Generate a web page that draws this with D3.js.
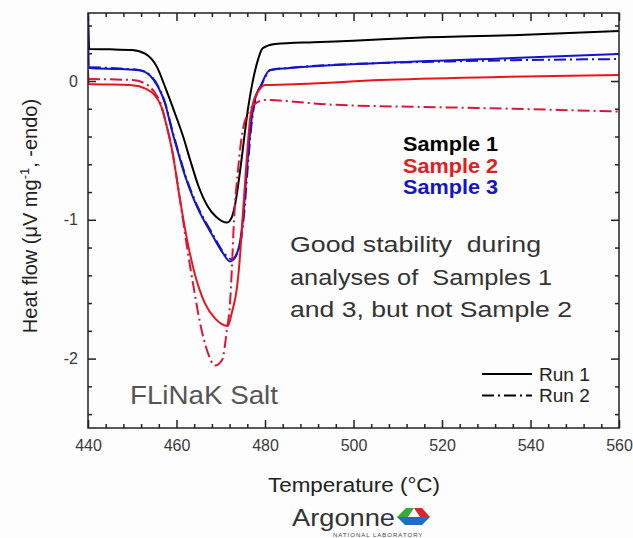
<!DOCTYPE html>
<html><head><meta charset="utf-8">
<script src="https://cdn.jsdelivr.net/npm/d3@7"></script>
<style>
html,body{margin:0;padding:0;background:#fdfdfd;}
svg{display:block;font-family:Arial,"Liberation Sans",sans-serif;}
</style></head>
<body><svg id="chart" width="633" height="538"></svg>
<script>
// ---------- data ----------
const xTickValues = [440, 460, 480, 500, 520, 540, 560];
const yTickValues = [0, -1, -2];
const sampleLabels = ["Sample 1", "Sample 2", "Sample 3"];
const runLabels = ["Run 1", "Run 2"];

// Sample 1, Run 1 (black solid)
const s1r1T = [440.0, 440.3, 445, 450, 453, 455.6, 457.5, 459.5, 461.5, 463.0, 465.0, 467.0, 469.0, 471.4, 472.5, 473.3, 474.4, 476.2, 478.2, 479.5, 482.3, 491, 500, 513, 536, 560];
const s1r1V = [0.49, 0.23, 0.228, 0.223, 0.195, 0.10, -0.05, -0.22, -0.40, -0.56, -0.76, -0.90, -0.98, -1.02, -0.98, -0.88, -0.64, -0.19, 0.13, 0.237, 0.266, 0.28, 0.29, 0.31, 0.33, 0.36];

// Sample 2, Run 1 (red solid)
const s2r1T = [440.0, 440.2, 450, 453, 455.0, 456.5, 457.6, 459.0, 460.8, 462.4, 464.2, 466.4, 468.7, 471.6, 472.5, 473.7, 474.4, 474.8, 475.7, 476.6, 477.5, 478.4, 480, 487.9, 506, 533, 560];
const s2r1V = [0.08, -0.022, -0.03, -0.055, -0.10, -0.18, -0.30, -0.497, -0.857, -1.146, -1.398, -1.60, -1.71, -1.765, -1.67, -1.48, -1.24, -1.05, -0.64, -0.28, -0.137, -0.079, -0.029, -0.022, 0.007, 0.029, 0.043];

// Sample 2, Run 2 (red dash-dot)
const s2r2T = [440.0, 450, 453, 455.0, 456.5, 457.6, 459.0, 460.8, 462.4, 464.0, 465.3, 466.9, 468.7, 470.3, 471.4, 472.1, 472.5, 473.0, 473.9, 475.0, 476.6, 478.4, 480, 494.7, 521.1, 536, 560];
const s2r2V = [0.014, 0.007, -0.02, -0.08, -0.17, -0.30, -0.497, -0.857, -1.20, -1.51, -1.74, -1.94, -2.05, -2.01, -1.79, -1.6, -1.36, -1.0, -0.64, -0.35, -0.21, -0.15, -0.137, -0.17, -0.19, -0.20, -0.22];

// Sample 3, Run 1 (blue solid)
const s3r1T = [440.0, 440.2, 447.2, 451.5, 454.0, 455.8, 457.4, 459.0, 460.5, 462.0, 463.5, 465.0, 466.4, 468.2, 470.5, 472.1, 473.2, 474.4, 475.0, 475.9, 476.8, 478.0, 478.9, 481.1, 485.6, 506, 536, 560];
const s3r1V = [0.48, 0.094, 0.086, 0.078, 0.04, -0.04, -0.16, -0.36, -0.53, -0.69, -0.82, -0.93, -1.016, -1.117, -1.24, -1.30, -1.27, -1.15, -1.0, -0.64, -0.32, -0.10, -0.043, 0.079, 0.094, 0.13, 0.165, 0.194];

// Sample 3, Run 2 (blue dash-dot)
const s3r2T = [440.2, 447.2, 451.5, 454.0, 455.8, 457.4, 459.0, 460.5, 462.0, 463.5, 465.0, 466.4, 468.2, 470.5, 472.6, 473.6, 474.7, 475.3, 476.1, 477.0, 478.2, 479.1, 481.3, 485.6, 506, 520, 536, 560];
const s3r2V = [0.10, 0.09, 0.08, 0.043, -0.035, -0.155, -0.35, -0.52, -0.68, -0.81, -0.92, -1.005, -1.105, -1.23, -1.285, -1.25, -1.12, -0.95, -0.62, -0.30, -0.09, -0.035, 0.08, 0.095, 0.13, 0.14, 0.15, 0.158];

// ---------- drawing ----------
const svg = d3.select("#chart");
const L = 88, R = 619, T = 13, B = 428;
const x = d3.scaleLinear().domain([440, 560]).range([L, R]);
const y = d3.scaleLinear().domain([-2.5, 0.49]).range([B, T]);

const axisColor = "#222";
const minorX = d3.range(440, 561, 4).filter(v => v % 20 !== 0);
const minorY = d3.range(-24, 5, 2).map(v => v / 10).filter(v => Math.abs(v - Math.round(v)) > 1e-6);

svg.append("clipPath").attr("id", "plotclip")
  .append("rect").attr("x", L).attr("y", T).attr("width", R - L).attr("height", B - T);

function styleAxis(g) {
  g.select(".domain").remove();
  g.selectAll(".tick line").attr("stroke", axisColor).attr("stroke-width", 1.5);
  g.selectAll(".tick text").attr("fill", "#3a3a3a").attr("font-size", 16)
    .attr("font-family", "Arial, 'Liberation Sans', sans-serif");
}
const noLabel = () => "";

// tick labels
svg.append("g").attr("transform", `translate(0,${B})`)
  .call(d3.axisBottom(x).tickValues(xTickValues).tickSize(0).tickPadding(12).tickFormat(d => String(d)))
  .call(styleAxis);
svg.append("g").attr("transform", `translate(${L},0)`)
  .call(d3.axisLeft(y).tickValues(yTickValues).tickSize(0).tickPadding(10).tickFormat(d => String(d)))
  .call(styleAxis);

// inward ticks
const tickSets = [
  {axis: d3.axisTop(x), tr: `translate(0,${B})`, vals: xTickValues, size: 8},
  {axis: d3.axisTop(x), tr: `translate(0,${B})`, vals: minorX, size: 4},
  {axis: d3.axisBottom(x), tr: `translate(0,${T})`, vals: xTickValues, size: 8},
  {axis: d3.axisBottom(x), tr: `translate(0,${T})`, vals: minorX, size: 4},
  {axis: d3.axisRight(y), tr: `translate(${L},0)`, vals: yTickValues, size: 8},
  {axis: d3.axisRight(y), tr: `translate(${L},0)`, vals: minorY, size: 4},
  {axis: d3.axisLeft(y), tr: `translate(${R},0)`, vals: yTickValues, size: 8},
  {axis: d3.axisLeft(y), tr: `translate(${R},0)`, vals: minorY, size: 4}
];
tickSets.forEach(t => {
  svg.append("g").attr("class", "ticks").attr("transform", t.tr)
    .call(t.axis.tickValues(t.vals).tickSize(t.size).tickFormat(noLabel))
    .call(styleAxis);
});

// curves
const line = d3.line().x(d => x(d[0])).y(d => y(d[1])).curve(d3.curveMonotoneX);
const zip = (a, b) => a.map((v, i) => [v, b[i]]);
const series = [
  {T: s1r1T, V: s1r1V, color: "#000000", dash: null},
  {T: s3r1T, V: s3r1V, color: "#1414c8", dash: null},
  {T: s3r2T, V: s3r2V, color: "#1414c8", dash: "12,4,2,4"},
  {T: s2r1T, V: s2r1V, color: "#e8161b", dash: null},
  {T: s2r2T, V: s2r2V, color: "#d8183a", dash: "12,4,2,4"}
];
const gLines = svg.append("g").attr("clip-path", "url(#plotclip)");
series.forEach(s => {
  gLines.append("path").datum(zip(s.T, s.V))
    .attr("d", line).attr("fill", "none")
    .attr("stroke", s.color).attr("stroke-width", 2)
    .attr("stroke-dasharray", s.dash)
    .attr("stroke-linejoin", "round");
});

// frame
svg.append("rect").attr("x", L).attr("y", T).attr("width", R - L).attr("height", B - T)
  .attr("fill", "none").attr("stroke", axisColor).attr("stroke-width", 1.5);

// sample legend
const sampleColors = ["#000000", "#e0201f", "#1414c8"];
sampleLabels.forEach((t, i) => {
  svg.append("text").attr("x", 403).attr("y", 151 + i * 21.5)
    .attr("font-size", 21).attr("font-weight", "bold")
    .attr("textLength", 95).attr("lengthAdjust", "spacingAndGlyphs")
    .attr("fill", sampleColors[i]).text(t);
});

// annotation
const notes = ["Good stability  during", "analyses of  Samples 1", "and 3, but not Sample 2"];
const noteLen = [251, 262, 282];
notes.forEach((t, i) => {
  svg.append("text").attr("x", 290).attr("y", 252 + i * 32.5)
    .attr("font-size", 22).attr("fill", "#333")
    .attr("xml:space", "preserve").style("white-space", "pre")
    .attr("textLength", noteLen[i]).attr("lengthAdjust", "spacingAndGlyphs")
    .text(t);
});

// FLiNaK Salt
svg.append("text").attr("x", 130).attr("y", 404).attr("font-size", 26)
  .attr("fill", "#555").attr("textLength", 148).attr("lengthAdjust", "spacingAndGlyphs")
  .text("FLiNaK Salt");

// run legend
const runDash = [null, "12,4,2,4"];
runLabels.forEach((t, i) => {
  const yy = 374 + i * 21.5;
  svg.append("line").attr("x1", 482).attr("x2", 532).attr("y1", yy).attr("y2", yy)
    .attr("stroke", "#000").attr("stroke-width", 2).attr("stroke-dasharray", runDash[i]);
  svg.append("text").attr("x", 539).attr("y", yy + 6.5).attr("font-size", 19)
    .attr("fill", "#222").text(t);
});

// axis titles
svg.append("text").attr("x", 354).attr("y", 492).attr("text-anchor", "middle")
  .attr("font-size", 20).attr("fill", "#222")
  .attr("textLength", 172).attr("lengthAdjust", "spacingAndGlyphs")
  .text("Temperature (°C)");

const yt = svg.append("text").attr("transform", "translate(37,216) rotate(-90)")
  .attr("text-anchor", "middle").attr("font-size", 20).attr("fill", "#222");
yt.append("tspan").text("Heat flow (μV mg");
yt.append("tspan").attr("font-size", 13).attr("dy", -8).text("-1");
yt.append("tspan").attr("dy", 8).text(", -endo)");

// Argonne logo
svg.append("text").attr("x", 292).attr("y", 526).attr("font-size", 24)
  .attr("fill", "#333").attr("textLength", 103).attr("lengthAdjust", "spacingAndGlyphs")
  .text("Argonne");
const lg = svg.append("g").attr("transform", "translate(397,508)");
lg.append("polygon").attr("points", "0,9 9,0 17,0 11,9").attr("fill", "#3da83a");
lg.append("polygon").attr("points", "17,0 25,0 33,9 23,9").attr("fill", "#d9262c");
lg.append("polygon").attr("points", "0,9 11,9 23,9 33,9 25,17 8,17").attr("fill", "#1f6fc0");
lg.append("polygon").attr("points", "11,9 17,3 23,9").attr("fill", "#fdfdfd");
svg.append("text").attr("x", 333).attr("y", 537).attr("font-size", 6)
  .attr("fill", "#444").attr("letter-spacing", 1).text("NATIONAL LABORATORY");
</script></body></html>
